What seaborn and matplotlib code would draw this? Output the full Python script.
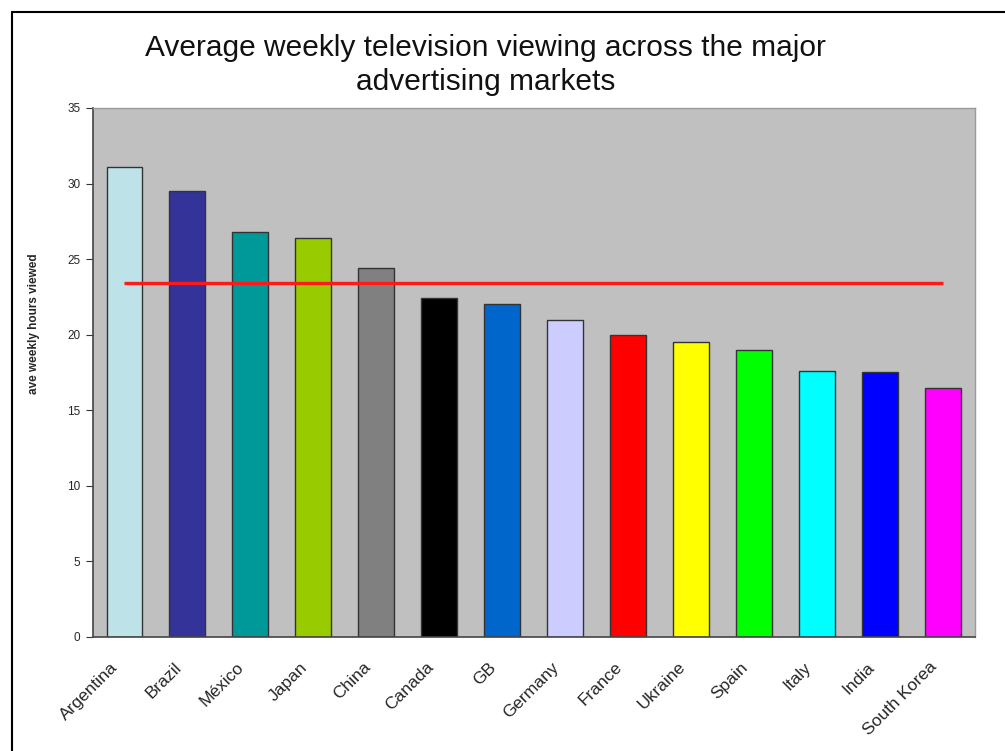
import matplotlib
matplotlib.use("Agg")
import matplotlib.pyplot as plt
from matplotlib.lines import Line2D
from matplotlib.transforms import ScaledTranslation
import seaborn as sns
import pandas as pd

countries = ["Argentina", "Brazil", "México", "Japan", "China", "Canada", "GB",
             "Germany", "France", "Ukraine", "Spain", "Italy", "India", "South Korea"]
hours = [31.1, 29.5, 26.8, 26.4, 24.4, 22.4, 22.0, 21.0, 20.0, 19.5, 19.0, 17.6, 17.5, 16.5]
bar_colors = ["#bde3e8", "#333399", "#009999", "#99cc00", "#808080", "#000000", "#0066cc",
              "#ccccff", "#ff0000", "#ffff00", "#00ff00", "#00ffff", "#0000ff", "#ff00ff"]
reference_level = 23.4
y_ticks = [0, 5, 10, 15, 20, 25, 30, 35]

sns.set_style("white")
plt.rcParams["font.family"] = ["Liberation Sans", "DejaVu Sans"]

df = pd.DataFrame({"country": countries, "hours": hours})

fig = plt.figure(figsize=(10.05, 7.51), dpi=100)
ax = fig.add_axes([0.0925, 0.1518, 0.8775, 0.7044])
ax.set_facecolor("#c0c0c0")

sns.barplot(data=df, x="country", y="hours", hue="country", palette=bar_colors,
            legend=False, width=0.57, edgecolor="#333333", linewidth=1.0,
            saturation=1, ax=ax)

ax.plot([0, len(countries) - 1], [reference_level, reference_level],
        color="#ff1a1a", linewidth=2.4, solid_capstyle="butt", zorder=5)

ax.set_xlim(-0.5, len(countries) - 0.5)
ax.set_ylim(0, 35)
ax.set_yticks(y_ticks)
ax.set_yticklabels([str(t) for t in y_ticks], fontsize=8.5)
ax.tick_params(axis="y", direction="out", length=5, width=0.8, color="#333333", pad=4, left=True)
ax.tick_params(axis="x", length=0, pad=9)
ax.set_xticks(range(len(countries)))
ax.set_xticklabels(countries, rotation=45, ha="right", va="top",
                   rotation_mode="anchor", fontsize=12.5)
# nudge the slanted country names down-left so they hang below each bar
shift = ScaledTranslation(-0.14, -0.10, fig.dpi_scale_trans)
for lbl in ax.get_xticklabels():
    lbl.set_transform(lbl.get_transform() + shift)
ax.set_xlabel("")
ax.set_ylabel("ave weekly hours viewed", fontsize=8.5, fontweight="bold")
ax.yaxis.set_label_coords(-0.060, 0.592)

for side in ["left", "bottom"]:
    ax.spines[side].set_color("#444444")
    ax.spines[side].set_linewidth(1.2)
for side in ["top", "right"]:
    ax.spines[side].set_color("#9a9a9a")
    ax.spines[side].set_linewidth(1.0)

fig.text(0.483, 0.913, "Average weekly television viewing across the major\nadvertising markets",
         ha="center", va="center", fontsize=21.5, linespacing=1.27, color="#111111")

# outer chart frame
fig.add_artist(Line2D([0.012, 1.0], [0.984, 0.984], color="black", linewidth=1.5,
                      transform=fig.transFigure))
fig.add_artist(Line2D([0.012, 0.012], [0.0, 0.984], color="black", linewidth=1.5,
                      transform=fig.transFigure))

fig.savefig("out.png", dpi=100)
